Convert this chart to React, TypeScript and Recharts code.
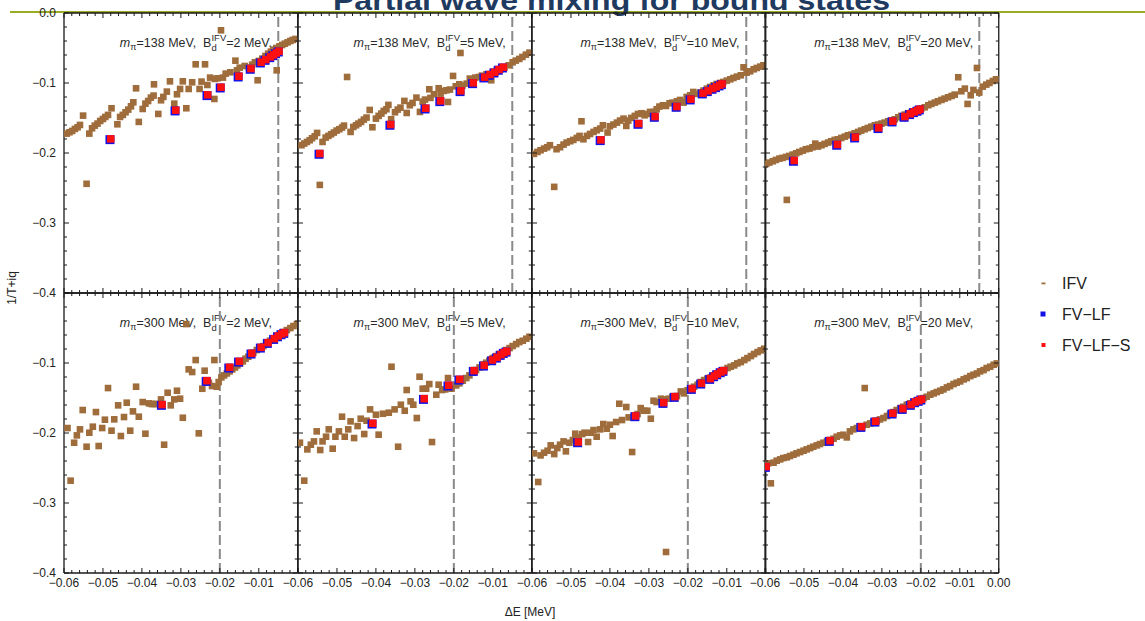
import React from 'react';
import { ScatterChart, Scatter, XAxis, YAxis, ReferenceLine } from 'recharts';

type P = [number, number];

// ---------- categories / labels ----------
const mPiLabels = ['138', '300'];
const bindingLabels = ['2', '5', '10', '20'];
const thresholdByRow = [-0.005, -0.02];
const yMajor = [0, -0.1, -0.2, -0.3, -0.4];
const xMajor = [-0.06, -0.05, -0.04, -0.03, -0.02, -0.01, 0];
const seriesNames = ['IFV', 'FV\u2212LF', 'FV\u2212LF\u2212S'];

// ---------- data: m_pi = 138 MeV ----------
const ifv138_2: P[] = [
  [-0.0593,-0.1723],[-0.0586,-0.1704],[-0.0579,-0.1685],[-0.0572,-0.1656],[-0.0565,-0.1633],[-0.0559,-0.1599],
  [-0.0551,-0.1466],[-0.0535,-0.1723],[-0.0528,-0.1647],[-0.0521,-0.1609],[-0.0514,-0.158],[-0.0507,-0.1542],
  [-0.05,-0.1514],[-0.0494,-0.1485],[-0.0487,-0.1456],[-0.0478,-0.1361],[-0.0463,-0.159],[-0.0456,-0.1485],
  [-0.0449,-0.1456],[-0.0442,-0.1418],[-0.0435,-0.138],[-0.0428,-0.1333],[-0.0422,-0.1276],[-0.0415,-0.1076],
  [-0.0408,-0.1556],[-0.0398,-0.1371],[-0.0391,-0.1295],[-0.0384,-0.1257],[-0.0377,-0.1209],[-0.037,-0.118],
  [-0.0369,-0.1019],[-0.0358,-0.1442],[-0.0351,-0.1247],[-0.0345,-0.1199],[-0.0336,-0.1123],[-0.0328,-0.0976],
  [-0.0317,-0.1295],[-0.031,-0.1161],[-0.0302,-0.1085],[-0.0295,-0.0976],[-0.0286,-0.1361],[-0.028,-0.1085],
  [-0.0271,-0.099],[-0.0262,-0.0733],[-0.0252,-0.1085],[-0.0247,-0.098],[-0.0238,-0.0733],[-0.0232,-0.1028],
  [-0.0225,-0.0923],[-0.0214,-0.1228],[-0.0213,-0.0942],[-0.0206,-0.0933],[-0.0197,-0.0247],[-0.0192,-0.0923],
  [-0.0185,-0.0866],[-0.0173,-0.0847],[-0.016,-0.0681],[-0.0156,-0.0819],[-0.0149,-0.0781],[-0.0136,-0.0757],
  [-0.0125,-0.0781],[-0.0117,-0.0738],[-0.011,-0.0704],[-0.0103,-0.0961],[-0.01,-0.0685],[-0.0091,-0.0652],
  [-0.0083,-0.0614],[-0.0076,-0.0581],[-0.0069,-0.0552],[-0.0062,-0.0524],[-0.0055,-0.05],[-0.0054,-0.0819],
  [-0.0047,-0.0476],[-0.004,-0.0457],[-0.0033,-0.0438],[-0.0026,-0.0419],[-0.0019,-0.04],[-0.0013,-0.0385],
  [-0.0006,-0.0371],[-0.0542,-0.244],
];
const fv138_2: P[] = [
  [-0.0482,-0.1809],[-0.0315,-0.1399],[-0.0233,-0.118],[-0.0199,-0.1071],[-0.0153,-0.0914],[-0.0122,-0.0804],
  [-0.0096,-0.0714],[-0.0084,-0.0676],[-0.0072,-0.0638],[-0.0064,-0.0609],[-0.0057,-0.0581],[-0.005,-0.0557],
];

const ifv138_5: P[] = [
  [-0.0591,-0.1889],[-0.0584,-0.1865],[-0.0577,-0.1842],[-0.057,-0.1818],[-0.0564,-0.1789],[-0.0557,-0.1761],
  [-0.0551,-0.1713],[-0.0544,-0.2456],[-0.0537,-0.1842],[-0.0529,-0.178],[-0.0522,-0.1756],[-0.0515,-0.1732],
  [-0.0508,-0.1708],[-0.0501,-0.168],[-0.0494,-0.1661],[-0.0487,-0.1637],[-0.0482,-0.1609],[-0.0474,-0.0914],
  [-0.0465,-0.1699],[-0.0458,-0.1628],[-0.0451,-0.1604],[-0.0445,-0.158],[-0.0438,-0.1556],[-0.0431,-0.1523],
  [-0.0424,-0.1494],[-0.0416,-0.1385],[-0.0409,-0.1632],[-0.04,-0.1509],[-0.0393,-0.147],[-0.0386,-0.1437],
  [-0.038,-0.1399],[-0.0373,-0.1375],[-0.0368,-0.1313],[-0.0361,-0.1518],[-0.0351,-0.1418],[-0.0344,-0.138],
  [-0.0337,-0.1352],[-0.0327,-0.1256],[-0.0321,-0.1428],[-0.0313,-0.1318],[-0.0306,-0.1285],[-0.0296,-0.1209],
  [-0.0287,-0.1413],[-0.028,-0.1266],[-0.0274,-0.1237],[-0.0263,-0.109],[-0.026,-0.1213],[-0.0251,-0.1161],
  [-0.0239,-0.1075],[-0.0234,-0.1152],[-0.0226,-0.1113],[-0.0219,-0.1104],[-0.0215,-0.1271],[-0.021,-0.1094],
  [-0.0202,-0.0899],[-0.0195,-0.1047],[-0.0186,-0.1018],[-0.0183,-0.0571],[-0.0178,-0.1037],[-0.0167,-0.1009],
  [-0.0159,-0.0937],[-0.0145,-0.0923],[-0.0136,-0.0914],[-0.0128,-0.0895],[-0.0116,-0.0875],[-0.0104,-0.0961],
  [-0.0099,-0.0842],[-0.009,-0.0828],[-0.008,-0.0804],[-0.007,-0.078],[-0.0059,-0.0747],[-0.0049,-0.0704],
  [-0.0041,-0.068],[-0.0032,-0.0656],[-0.0024,-0.0628],[-0.0015,-0.0595],[-0.0006,-0.0566],
];
const fv138_5: P[] = [
  [-0.0546,-0.2018],[-0.0364,-0.1604],[-0.0274,-0.1371],[-0.0236,-0.1266],[-0.0184,-0.1123],[-0.0152,-0.1009],
  [-0.0123,-0.0928],[-0.0109,-0.089],[-0.0097,-0.0857],[-0.0086,-0.0818],[-0.0075,-0.0785],
];

const ifv138_10: P[] = [
  [-0.0595,-0.2013],[-0.0586,-0.1985],[-0.0578,-0.1961],[-0.0569,-0.1937],[-0.0561,-0.1918],[-0.0554,-0.1889],
  [-0.0543,-0.2484],[-0.0537,-0.1946],[-0.0528,-0.1918],[-0.0519,-0.188],[-0.0511,-0.1851],[-0.0502,-0.1832],
  [-0.0494,-0.1813],[-0.0485,-0.1785],[-0.0478,-0.1756],[-0.0473,-0.1547],[-0.0468,-0.1804],[-0.0459,-0.1756],
  [-0.0451,-0.1728],[-0.0442,-0.1699],[-0.0434,-0.1675],[-0.0425,-0.1651],[-0.0418,-0.1604],[-0.0406,-0.1708],
  [-0.04,-0.1618],[-0.0391,-0.1594],[-0.0382,-0.1566],[-0.0374,-0.1537],[-0.0365,-0.1509],[-0.0358,-0.1613],
  [-0.0353,-0.1537],[-0.0345,-0.1499],[-0.0336,-0.147],[-0.0328,-0.1442],[-0.0319,-0.1432],[-0.0311,-0.1461],
  [-0.0305,-0.1442],[-0.0297,-0.1413],[-0.0287,-0.1413],[-0.028,-0.1375],[-0.0273,-0.1337],[-0.0264,-0.1318],
  [-0.0256,-0.1328],[-0.0247,-0.129],[-0.0239,-0.128],[-0.0228,-0.1261],[-0.022,-0.1242],[-0.0211,-0.128],
  [-0.0203,-0.1199],[-0.0194,-0.1175],[-0.0186,-0.1128],[-0.0177,-0.1156],[-0.0168,-0.1137],[-0.016,-0.1109],
  [-0.0151,-0.108],[-0.0143,-0.1056],[-0.0134,-0.1033],[-0.0126,-0.1014],[-0.0117,-0.0999],[-0.0109,-0.0985],
  [-0.01,-0.0966],[-0.0091,-0.0947],[-0.0083,-0.0928],[-0.0074,-0.0909],[-0.0064,-0.089],[-0.0057,-0.0776],
  [-0.0049,-0.0852],[-0.004,-0.0833],[-0.0031,-0.0804],[-0.0023,-0.0785],[-0.0014,-0.0766],[-0.0006,-0.0747],
];
const fv138_10: P[] = [
  [-0.0425,-0.1823],[-0.0328,-0.159],[-0.0286,-0.149],[-0.023,-0.1347],[-0.0194,-0.1242],[-0.0163,-0.1156],
  [-0.015,-0.1123],[-0.0138,-0.109],[-0.0129,-0.1066],[-0.012,-0.1042],[-0.0114,-0.1023],
];

const ifv138_20: P[] = [
  [-0.0597,-0.2156],[-0.0589,-0.2137],[-0.058,-0.2118],[-0.0572,-0.2099],[-0.0563,-0.208],[-0.0555,-0.207],
  [-0.0546,-0.2056],[-0.0544,-0.267],[-0.0538,-0.2042],[-0.0529,-0.2023],[-0.052,-0.2004],[-0.0512,-0.1985],
  [-0.0503,-0.1966],[-0.0495,-0.1946],[-0.0486,-0.1937],[-0.0478,-0.1918],[-0.0471,-0.1866],[-0.0464,-0.1908],
  [-0.0455,-0.1889],[-0.0447,-0.187],[-0.0438,-0.1851],[-0.043,-0.1832],[-0.0421,-0.1813],[-0.0413,-0.1804],
  [-0.0404,-0.1785],[-0.0395,-0.1766],[-0.0387,-0.1747],[-0.0378,-0.1737],[-0.037,-0.1718],[-0.0361,-0.1699],
  [-0.0353,-0.168],[-0.0344,-0.1661],[-0.0336,-0.1642],[-0.0327,-0.1623],[-0.0318,-0.1604],[-0.031,-0.1594],
  [-0.0301,-0.158],[-0.0293,-0.1566],[-0.0284,-0.1547],[-0.0276,-0.1537],[-0.0267,-0.1518],[-0.0258,-0.149],
  [-0.025,-0.147],[-0.0241,-0.1451],[-0.0233,-0.1432],[-0.0224,-0.1423],[-0.0216,-0.1404],[-0.0207,-0.1385],
  [-0.0199,-0.1366],[-0.019,-0.1347],[-0.0181,-0.1318],[-0.0173,-0.1299],[-0.0164,-0.128],[-0.0156,-0.1261],
  [-0.0147,-0.1242],[-0.0139,-0.1223],[-0.013,-0.1204],[-0.0121,-0.1185],[-0.0113,-0.1166],[-0.0104,-0.0918],
  [-0.0096,-0.1118],[-0.0087,-0.108],[-0.008,-0.1299],[-0.0072,-0.1175],[-0.0065,-0.1099],[-0.0056,-0.0785],
  [-0.005,-0.1137],[-0.0041,-0.1052],[-0.0032,-0.1023],[-0.0024,-0.0999],[-0.0015,-0.0971],[-0.0007,-0.0947],
];
const fv138_20: P[] = [
  [-0.0527,-0.2118],[-0.0416,-0.1889],[-0.037,-0.1785],[-0.031,-0.1651],[-0.0274,-0.1556],[-0.0243,-0.149],
  [-0.0229,-0.1451],[-0.0219,-0.1423],[-0.021,-0.1404],[-0.0204,-0.1385],
];

// ---------- data: m_pi = 300 MeV ----------
const ifv300_2: P[] = [
  [-0.0591,-0.1929],[-0.0583,-0.2681],[-0.0574,-0.2139],[-0.0567,-0.2034],[-0.0559,-0.1948],[-0.0552,-0.1672],
  [-0.0542,-0.2196],[-0.0535,-0.1996],[-0.0526,-0.191],[-0.0518,-0.1701],[-0.0511,-0.2186],[-0.0502,-0.1929],
  [-0.0495,-0.181],[-0.0487,-0.1358],[-0.0478,-0.1967],[-0.0471,-0.1805],[-0.0461,-0.1605],[-0.0454,-0.2043],
  [-0.0446,-0.1772],[-0.0439,-0.1567],[-0.043,-0.1967],[-0.0423,-0.1691],[-0.0415,-0.1339],[-0.0408,-0.1767],
  [-0.0398,-0.1558],[-0.0391,-0.201],[-0.0382,-0.1577],[-0.0375,-0.1586],[-0.0369,-0.1586],[-0.0362,-0.1586],
  [-0.0351,-0.152],[-0.0343,-0.2167],[-0.0334,-0.1425],[-0.0326,-0.1605],[-0.0317,-0.152],[-0.031,-0.1396],
  [-0.0302,-0.151],[-0.0295,-0.1782],[-0.0286,-0.0444],[-0.028,-0.1091],[-0.0271,-0.1129],[-0.0262,-0.0958],
  [-0.0254,-0.2005],[-0.0245,-0.1368],[-0.0239,-0.111],[-0.0228,-0.1282],[-0.022,-0.1329],[-0.0214,-0.0958],
  [-0.0208,-0.1339],[-0.0203,-0.1272],[-0.0196,-0.1206],[-0.0189,-0.1177],[-0.0182,-0.1149],[-0.0175,-0.112],
  [-0.0168,-0.1091],[-0.0161,-0.1063],[-0.0155,-0.1034],[-0.0148,-0.1006],[-0.0141,-0.0977],[-0.0134,-0.0939],
  [-0.0127,-0.0911],[-0.012,-0.0882],[-0.0114,-0.0853],[-0.0105,-0.0815],[-0.0096,-0.0787],[-0.0088,-0.0758],
  [-0.0079,-0.072],[-0.0071,-0.0682],[-0.0062,-0.0653],[-0.0054,-0.0615],[-0.0045,-0.0587],[-0.0037,-0.0558],
  [-0.0028,-0.053],[-0.0019,-0.0501],[-0.0011,-0.0472],[-0.0002,-0.0444],
];
const fv300_2: P[] = [
  [-0.035,-0.1605],[-0.0235,-0.1263],[-0.0177,-0.1072],[-0.0152,-0.0987],[-0.012,-0.0872],[-0.0096,-0.0787],
  [-0.0078,-0.072],[-0.0062,-0.0663],[-0.0052,-0.0625],[-0.0043,-0.0596],[-0.0036,-0.0577],
];

const ifv300_5: P[] = [
  [-0.0595,-0.2139],[-0.0584,-0.2681],[-0.0576,-0.2234],[-0.0567,-0.2167],[-0.0559,-0.212],[-0.0552,-0.1977],
  [-0.0543,-0.2243],[-0.0537,-0.212],[-0.0528,-0.2053],[-0.0521,-0.1948],[-0.0511,-0.2224],[-0.0504,-0.2053],
  [-0.0495,-0.1977],[-0.0487,-0.1767],[-0.048,-0.2053],[-0.0471,-0.1948],[-0.0465,-0.1834],[-0.0456,-0.2072],
  [-0.0447,-0.1901],[-0.0439,-0.1796],[-0.043,-0.2015],[-0.0424,-0.1824],[-0.0415,-0.1663],[-0.04,-0.1739],
  [-0.0393,-0.2024],[-0.0382,-0.1725],[-0.0367,-0.171],[-0.036,-0.1053],[-0.0352,-0.1663],[-0.0343,-0.2196],
  [-0.0336,-0.1596],[-0.0326,-0.1682],[-0.0321,-0.1386],[-0.0311,-0.1548],[-0.0304,-0.1596],[-0.0295,-0.1786],
  [-0.0288,-0.1196],[-0.028,-0.1367],[-0.0271,-0.1367],[-0.0263,-0.1301],[-0.0256,-0.2129],[-0.0245,-0.1453],
  [-0.0239,-0.131],[-0.023,-0.1386],[-0.0222,-0.1377],[-0.0215,-0.1215],[-0.0206,-0.1367],[-0.0194,-0.132],
  [-0.0186,-0.1291],[-0.0177,-0.1253],[-0.0168,-0.1215],[-0.016,-0.1177],[-0.0151,-0.1139],[-0.0143,-0.1101],
  [-0.0134,-0.1063],[-0.0126,-0.1025],[-0.0117,-0.0996],[-0.0109,-0.0968],[-0.01,-0.093],[-0.0091,-0.0901],
  [-0.0083,-0.0872],[-0.0074,-0.0844],[-0.0066,-0.0815],[-0.0057,-0.0787],[-0.0049,-0.0758],[-0.004,-0.073],
  [-0.0032,-0.0701],[-0.0023,-0.0682],[-0.0014,-0.0653],[-0.0006,-0.0625],
];
const fv300_5: P[] = [
  [-0.041,-0.1872],[-0.0278,-0.152],[-0.0215,-0.1329],[-0.0187,-0.1244],[-0.015,-0.112],[-0.0124,-0.1044],
  [-0.0103,-0.0968],[-0.0091,-0.093],[-0.0081,-0.0891],[-0.0073,-0.0863],[-0.0066,-0.0844],
];

const ifv300_10: P[] = [
  [-0.0595,-0.2291],[-0.0584,-0.27],[-0.0578,-0.232],[-0.0569,-0.2282],[-0.056,-0.2253],[-0.0552,-0.2177],
  [-0.0543,-0.2301],[-0.0535,-0.2215],[-0.0528,-0.2167],[-0.0519,-0.212],[-0.0513,-0.2262],[-0.0504,-0.2139],
  [-0.0495,-0.2101],[-0.0489,-0.201],[-0.048,-0.2063],[-0.0471,-0.2015],[-0.0465,-0.1996],[-0.0456,-0.2129],
  [-0.0449,-0.1996],[-0.0442,-0.1958],[-0.0434,-0.2053],[-0.0425,-0.1948],[-0.0417,-0.1872],[-0.0408,-0.1939],
  [-0.04,-0.1882],[-0.0393,-0.2043],[-0.0384,-0.1843],[-0.0376,-0.1582],[-0.0369,-0.1815],[-0.0358,-0.1629],
  [-0.0352,-0.1777],[-0.0343,-0.2272],[-0.0336,-0.1767],[-0.0329,-0.1729],[-0.0321,-0.1644],[-0.0312,-0.1682],
  [-0.0304,-0.1682],[-0.0295,-0.1796],[-0.0288,-0.1539],[-0.028,-0.1558],[-0.0269,-0.151],[-0.0263,-0.152],
  [-0.0256,-0.37],[-0.0249,-0.151],[-0.024,-0.1491],[-0.0228,-0.1472],[-0.0218,-0.1406],[-0.021,-0.1434],
  [-0.0201,-0.1391],[-0.0192,-0.1367],[-0.0184,-0.1339],[-0.0175,-0.131],[-0.0167,-0.1272],[-0.0158,-0.1244],
  [-0.015,-0.1225],[-0.0141,-0.1206],[-0.0132,-0.1177],[-0.0124,-0.1149],[-0.0115,-0.113],[-0.0107,-0.1101],
  [-0.0098,-0.1072],[-0.009,-0.1053],[-0.0081,-0.1034],[-0.0073,-0.1006],[-0.0064,-0.0987],[-0.0055,-0.0958],
  [-0.0047,-0.093],[-0.0038,-0.0901],[-0.003,-0.0872],[-0.0021,-0.0844],[-0.0013,-0.082],[-0.0004,-0.0796],
];
const fv300_10: P[] = [
  [-0.0483,-0.2139],[-0.0336,-0.1767],[-0.0264,-0.1577],[-0.0235,-0.1491],[-0.0191,-0.1377],[-0.0167,-0.1301],
  [-0.0144,-0.1234],[-0.0134,-0.1196],[-0.0126,-0.1168],[-0.0117,-0.1139],[-0.011,-0.112],
];

const ifv300_20: P[] = [
  [-0.0592,-0.2434],[-0.0585,-0.2719],[-0.0578,-0.2424],[-0.057,-0.2396],[-0.0561,-0.2377],[-0.0553,-0.2358],
  [-0.0544,-0.2348],[-0.0536,-0.2329],[-0.0527,-0.231],[-0.0519,-0.2291],[-0.051,-0.2272],[-0.0501,-0.2253],
  [-0.0493,-0.2234],[-0.0484,-0.2215],[-0.0476,-0.2196],[-0.0467,-0.2177],[-0.0459,-0.2158],[-0.045,-0.2139],
  [-0.0441,-0.212],[-0.0433,-0.2101],[-0.0424,-0.2082],[-0.0416,-0.2053],[-0.0407,-0.2034],[-0.0399,-0.2025],
  [-0.039,-0.2063],[-0.0382,-0.1977],[-0.0373,-0.1948],[-0.0364,-0.1929],[-0.0356,-0.191],[-0.0344,-0.1358],
  [-0.0339,-0.1882],[-0.033,-0.1863],[-0.0322,-0.1844],[-0.0313,-0.1825],[-0.0305,-0.1806],[-0.0296,-0.1786],
  [-0.0287,-0.1758],[-0.0279,-0.1729],[-0.027,-0.1701],[-0.0262,-0.1672],[-0.0253,-0.1644],[-0.0245,-0.1625],
  [-0.0236,-0.1596],[-0.0227,-0.1577],[-0.0219,-0.1558],[-0.021,-0.1539],[-0.0202,-0.152],[-0.0193,-0.1501],
  [-0.0185,-0.1482],[-0.0176,-0.1453],[-0.0167,-0.1434],[-0.0159,-0.1415],[-0.015,-0.1396],[-0.0142,-0.1377],
  [-0.0133,-0.1349],[-0.0125,-0.133],[-0.0116,-0.1301],[-0.0108,-0.1282],[-0.0099,-0.1263],[-0.009,-0.1234],
  [-0.0082,-0.1215],[-0.0073,-0.1187],[-0.0065,-0.1168],[-0.0056,-0.1149],[-0.0048,-0.112],[-0.0039,-0.1101],
  [-0.0031,-0.1072],[-0.0022,-0.1053],[-0.0013,-0.1025],[-0.0005,-0.1006],
];
const fv300_20: P[] = [
  [-0.0599,-0.2491],[-0.0435,-0.212],[-0.0354,-0.192],[-0.0318,-0.1844],[-0.0274,-0.1729],[-0.0248,-0.1663],
  [-0.0227,-0.1605],[-0.0216,-0.1567],[-0.0207,-0.1548],[-0.02,-0.1529],
];

const ifvByPanel: P[][][] = [
  [ifv138_2, ifv138_5, ifv138_10, ifv138_20],
  [ifv300_2, ifv300_5, ifv300_10, ifv300_20],
];
const fvByPanel: P[][][] = [
  [fv138_2, fv138_5, fv138_10, fv138_20],
  [fv300_2, fv300_5, fv300_10, fv300_20],
];

// ---------- layout / style ----------
const COL_LEFT = [64, 297.75, 531.5, 765.25];
const PANEL_W = 233.75;
const ROW_TOP = [12.7, 292.7];
const PANEL_H = 280;
const PAD = 50;
const FONT = '"Liberation Sans", Arial, Helvetica, sans-serif';
const BROWN = '#9f6c3b';
const BLUE = '#1212e6';
const RED = '#ff1010';
const FRAME = '#1a1a1a';
const TEXT = '#222';

const isMajor = (v: number, step: number) => Math.abs(v / step - Math.round(v / step)) < 1e-6;
const yTicks: number[] = [];
for (let i = 0; i <= 20; i++) yTicks.push(-Math.round(i * 2) / 100);
const xTicks: number[] = [];
for (let i = 0; i <= 30; i++) xTicks.push(Math.round((-0.06 + i * 0.002) * 10000) / 10000);

const fmtY = (v: number) => (Math.abs(v) < 1e-9 ? '0.0' : '\u2212' + Math.abs(v).toFixed(1));
const fmtX = (v: number) => (Math.abs(v) < 1e-9 ? '0.00' : '\u2212' + Math.abs(v).toFixed(2));

const toPts = (arr: P[]) => arr.map(([x, y]) => ({ x, y }));

function Panel({ row, col }: { row: number; col: number }) {
  const ifv = toPts(ifvByPanel[row][col]);
  const fv = toPts(fvByPanel[row][col]);
  const showYLabels = col === 0;
  const showXLabels = row === 1;

  const leftTick = (p: any) => {
    const v = p.payload.value;
    const major = isMajor(v, 0.1);
    const lbl = showYLabels && major && (row === 0 || Math.abs(v) > 1e-9);
    return (
      <g>
        <line x1={p.x} x2={p.x + (major ? 5 : 3)} y1={p.y} y2={p.y} stroke={FRAME} strokeWidth={1} />
        {lbl && (
          <text x={p.x - 8} y={p.y} dy="0.35em" textAnchor="end" fontSize={12} fill={TEXT} fontFamily={FONT}>
            {fmtY(v)}
          </text>
        )}
      </g>
    );
  };
  const rightTick = (p: any) => {
    const major = isMajor(p.payload.value, 0.1);
    return <line x1={p.x} x2={p.x - (major ? 5 : 3)} y1={p.y} y2={p.y} stroke={FRAME} strokeWidth={1} />;
  };
  const bottomTick = (p: any) => {
    const v = p.payload.value;
    const major = isMajor(v, 0.01);
    const lbl = showXLabels && major && (col === 3 || Math.abs(v) > 1e-9);
    return (
      <g>
        <line x1={p.x} x2={p.x} y1={p.y} y2={p.y - (major ? 5 : 3)} stroke={FRAME} strokeWidth={1} />
        {lbl && (
          <text x={p.x} y={p.y + 14} textAnchor="middle" fontSize={12} fill={TEXT} fontFamily={FONT}>
            {fmtX(v)}
          </text>
        )}
      </g>
    );
  };
  const topTick = (p: any) => {
    const major = isMajor(p.payload.value, 0.01);
    return <line x1={p.x} x2={p.x} y1={p.y} y2={p.y + (major ? 5 : 3)} stroke={FRAME} strokeWidth={1} />;
  };

  const axisLine = { stroke: FRAME, strokeWidth: 1.3 };

  return (
    <div style={{ position: 'absolute', left: COL_LEFT[col] - PAD, top: ROW_TOP[row] - PAD }}>
      <ScatterChart
        width={PANEL_W + 2 * PAD}
        height={PANEL_H + 2 * PAD}
        margin={{ top: 0, right: 0, bottom: 0, left: 0 }}
      >
        <XAxis xAxisId="b" type="number" dataKey="x" domain={[-0.06, 0]} allowDataOverflow orientation="bottom"
          height={PAD} ticks={xTicks} interval={0} tickSize={0} tickMargin={0} tickLine={false}
          axisLine={axisLine} tick={bottomTick} />
        <XAxis xAxisId="t" type="number" dataKey="x" domain={[-0.06, 0]} allowDataOverflow orientation="top"
          height={PAD} ticks={xTicks} interval={0} tickSize={0} tickMargin={0} tickLine={false}
          axisLine={axisLine} tick={topTick} />
        <YAxis yAxisId="l" type="number" dataKey="y" domain={[-0.4, 0]} allowDataOverflow orientation="left"
          width={PAD} ticks={yTicks} interval={0} tickSize={0} tickMargin={0} tickLine={false}
          axisLine={axisLine} tick={leftTick} />
        <YAxis yAxisId="r" type="number" dataKey="y" domain={[-0.4, 0]} allowDataOverflow orientation="right"
          width={PAD} ticks={yTicks} interval={0} tickSize={0} tickMargin={0} tickLine={false}
          axisLine={axisLine} tick={rightTick} />
        <ReferenceLine xAxisId="b" yAxisId="l" x={thresholdByRow[row]} stroke="#8a8a8a" strokeWidth={2}
          strokeDasharray="10 4" ifOverflow="visible" />
        <Scatter name={seriesNames[0]} data={ifv} xAxisId="b" yAxisId="l" isAnimationActive={false}
          shape={(p: any) => <rect x={p.cx - 3.3} y={p.cy - 3.3} width={6.6} height={6.6} fill={BROWN} />} />
        <Scatter name={seriesNames[1]} data={fv} xAxisId="t" yAxisId="r" isAnimationActive={false}
          shape={(p: any) => <rect x={p.cx - 4.5} y={p.cy - 4.5} width={9} height={9} fill={BLUE} />} />
        <Scatter name={seriesNames[2]} data={fv} xAxisId="t" yAxisId="r" isAnimationActive={false}
          shape={(p: any) => <rect x={p.cx - 3} y={p.cy - 4.5} width={7.5} height={7.5} fill={RED} />} />
      </ScatterChart>
    </div>
  );
}

function Annotation({ row, col }: { row: number; col: number }) {
  const xEnd = COL_LEFT[col] + 208;
  const yb = ROW_TOP[row] + 34.6;
  return (
    <text x={xEnd} y={yb} textAnchor="end" fontSize={12.5} fill="#2a2a2a" fontFamily={FONT}>
      <tspan fontStyle="italic">m</tspan>
      <tspan fontSize={9} dy={3}>{'\u03c0'}</tspan>
      <tspan dy={-3}>{`=${mPiLabels[row]}\u00a0MeV,\u00a0\u00a0B`}</tspan>
      <tspan fontSize={9.5} dy={-6}>IFV</tspan>
      <tspan fontSize={9.5} dx={-14.8} dy={10}>d</tspan>
      <tspan dx={9.5} dy={-4}>{`=${bindingLabels[col]}\u00a0MeV,`}</tspan>
    </text>
  );
}

export default function App() {
  const panels: { row: number; col: number }[] = [];
  for (let r = 0; r < 2; r++) for (let c = 0; c < 4; c++) panels.push({ row: r, col: c });
  return (
    <div style={{ position: 'absolute', left: 0, top: 0, width: 1145, height: 621, overflow: 'hidden', background: '#fff', fontFamily: FONT }}>
      <svg width={1145} height={621} style={{ position: 'absolute', left: 0, top: 0 }}>
        <line x1={10} x2={1145} y1={12} y2={12} stroke="#9aab25" strokeWidth={2} />
        <text x={611.5} y={10} textAnchor="middle" fontSize={27} fontWeight="bold" fill="#1f3a60"
          fontFamily={FONT} textLength={557} lengthAdjust="spacingAndGlyphs">
          Partial wave mixing for bound states
        </text>
        {panels.map((p) => <Annotation key={`a${p.row}${p.col}`} row={p.row} col={p.col} />)}
        <text x={0} y={0} transform="translate(16,288) rotate(-90)" textAnchor="middle" fontSize={12} fill={TEXT} fontFamily={FONT}>
          1/T+iq
        </text>
        <text x={530} y={616} textAnchor="middle" fontSize={12} fill={TEXT} fontFamily={FONT}>
          {'\u0394E [MeV]'}
        </text>
        {/* legend */}
        <rect x={1041.5} y={282.5} width={4} height={1.8} fill={BROWN} />
        <text x={1062} y={289} fontSize={16} fill={TEXT} fontFamily={FONT}>{seriesNames[0]}</text>
        <rect x={1040.5} y={311.5} width={5} height={5} fill={BLUE} />
        <text x={1062} y={320} fontSize={16} fill={TEXT} fontFamily={FONT}>{seriesNames[1]}</text>
        <rect x={1041.5} y={343} width={4} height={4} fill={RED} />
        <text x={1062} y={351} fontSize={16} fill={TEXT} fontFamily={FONT}>{seriesNames[2]}</text>
      </svg>
      {panels.map((p) => <Panel key={`p${p.row}${p.col}`} row={p.row} col={p.col} />)}
    </div>
  );
}
